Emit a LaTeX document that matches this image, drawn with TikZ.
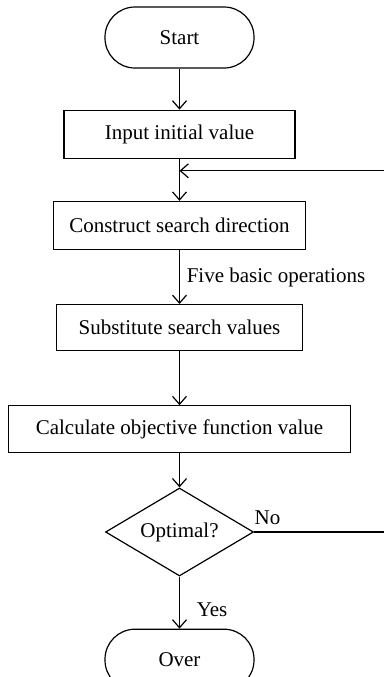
\documentclass[tikz,border=0pt]{standalone}
\usepackage{fontspec}
\setmainfont{Liberation Serif}
\usetikzlibrary{positioning,shapes.geometric,arrows.meta}

\begin{document}
\begin{tikzpicture}[auto,node distance=20pt,>={Straight Barb[length=4pt,width=7pt]},line width=0.6pt,font=\fontsize{10.5}{12.5}\selectfont]
	\tikzstyle{terminal}=[draw,rectangle,rounded corners=15pt,minimum width=74.5pt,minimum height=30.5pt]
	\tikzstyle{process}=[draw,rectangle,minimum height=24pt]
	\tikzstyle{decision}=[draw,diamond,aspect=1.7,inner sep=0pt,minimum width=74pt,minimum height=44pt]
	\useasboundingbox (0,0) rectangle (192pt,-338.5pt);
		\node[terminal] (start) at (89.75pt,-18.75pt) {Start};
		\node[process, below=20.5pt of start, minimum width=115.5pt] (input) {Input initial value};
		\node[process, below=21pt of input, minimum width=126pt] (construct) {Construct search direction};
		\node[process, below=27pt of construct, minimum width=123pt, minimum height=23pt] (substitute) {Substitute search values};
		\node[process, below=27pt of substitute, minimum width=171pt, minimum height=23.5pt] (calc) {Calculate objective function value};
		\node[decision, below=17pt of calc] (optimal) {Optimal?};
		\node[terminal, below=26pt of optimal] (over) {Over};
		\coordinate[below=6pt of input.south] (join);
		\coordinate[right=67pt of optimal.east] (rim);
			\draw[->] (start) -- (input);
			\draw[->] (input) -- (construct);
			\draw[->] (construct) -- node[right] {Five basic operations} (substitute);
			\draw[->] (substitute) -- (calc);
			\draw[->] (calc) -- (optimal);
			\draw[->] (optimal) -- node[right=5pt, pos=0.63] {Yes} (over);
			\draw[->] (optimal.east) -- node[above, pos=0.1] {No} (rim) |- (join);
\end{tikzpicture}
\end{document}
